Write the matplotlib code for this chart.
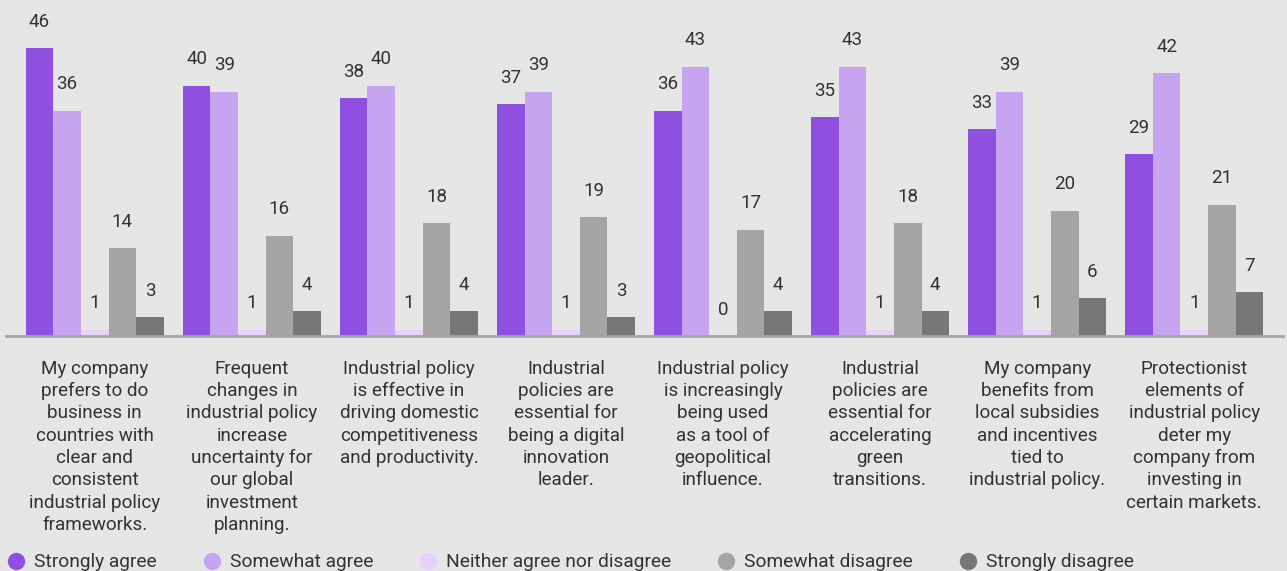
import matplotlib
matplotlib.use("Agg")
import matplotlib.pyplot as plt
from matplotlib.lines import Line2D
import numpy as np

categories = [
    "My company\nprefers to do\nbusiness in\ncountries with\nclear and\nconsistent\nindustrial policy\nframeworks.",
    "Frequent\nchanges in\nindustrial policy\nincrease\nuncertainty for\nour global\ninvestment\nplanning.",
    "Industrial policy\nis effective in\ndriving domestic\ncompetitiveness\nand productivity.",
    "Industrial\npolicies are\nessential for\nbeing a digital\ninnovation\nleader.",
    "Industrial policy\nis increasingly\nbeing used\nas a tool of\ngeopolitical\ninfluence.",
    "Industrial\npolicies are\nessential for\naccelerating\ngreen\ntransitions.",
    "My company\nbenefits from\nlocal subsidies\nand incentives\ntied to\nindustrial policy.",
    "Protectionist\nelements of\nindustrial policy\ndeter my\ncompany from\ninvesting in\ncertain markets.",
]
series_names = ["Strongly agree", "Somewhat agree", "Neither agree nor disagree",
                "Somewhat disagree", "Strongly disagree"]
strongly_agree = [46, 40, 38, 37, 36, 35, 33, 29]
somewhat_agree = [36, 39, 40, 39, 43, 43, 39, 42]
neither = [1, 1, 1, 1, 0, 1, 1, 1]
somewhat_disagree = [14, 16, 18, 19, 17, 18, 20, 21]
strongly_disagree = [3, 4, 4, 3, 4, 4, 6, 7]
series_values = [strongly_agree, somewhat_agree, neither, somewhat_disagree, strongly_disagree]
colors = ["#8f4fe0", "#c6a4f0", "#e6d2fb", "#a5a5a5", "#777777"]

BG = "#e6e6e6"
TXT = "#333333"
FONT = ["Roboto", "DejaVu Sans"]
plt.rcParams["font.family"] = FONT

W, H = 1287, 571
fig = plt.figure(figsize=(W / 100, H / 100), dpi=100, facecolor=BG)
ax = fig.add_axes([6 / W, (H - 336) / H, 1277 / W, 336 / H], facecolor=BG)

x = np.arange(len(categories))
bw = 0.1757
for k, (vals, col) in enumerate(zip(series_values, colors)):
    xs = x + (k - 2) * bw
    ax.bar(xs, vals, width=bw, color=col, linewidth=0, zorder=2)
    for xi, v in zip(xs, vals):
        ax.annotate(f"{v}", (xi, v), xytext=(0, 19), textcoords="offset points",
                    ha="center", va="center", fontsize=13.5, color=TXT)

ax.set_xlim(-0.565, len(categories) - 1 + 0.565)
ax.set_ylim(0, 336 / 6.26)
for s in ["top", "right", "left"]:
    ax.spines[s].set_visible(False)
ax.spines["bottom"].set_color("#a6a6a6")
ax.spines["bottom"].set_linewidth(2)
ax.set_yticks([])
ax.set_xticks(x)
ax.set_xticklabels(categories, fontsize=13.6, color=TXT, linespacing=1.31)
ax.tick_params(axis="x", length=0, pad=17)

handles = [Line2D([], [], marker="o", linestyle="none", markersize=12.5,
                  markerfacecolor=c, markeredgewidth=0) for c in colors]
fig.legend(handles, series_names, ncol=5, loc="lower left",
           bbox_to_anchor=(0.0005, -0.014), frameon=False, fontsize=13.8,
           handlelength=0.8, handletextpad=0.55, columnspacing=2.46,
           labelcolor=TXT, borderaxespad=0.0)

fig.savefig("out.png", dpi=100, facecolor=BG)
